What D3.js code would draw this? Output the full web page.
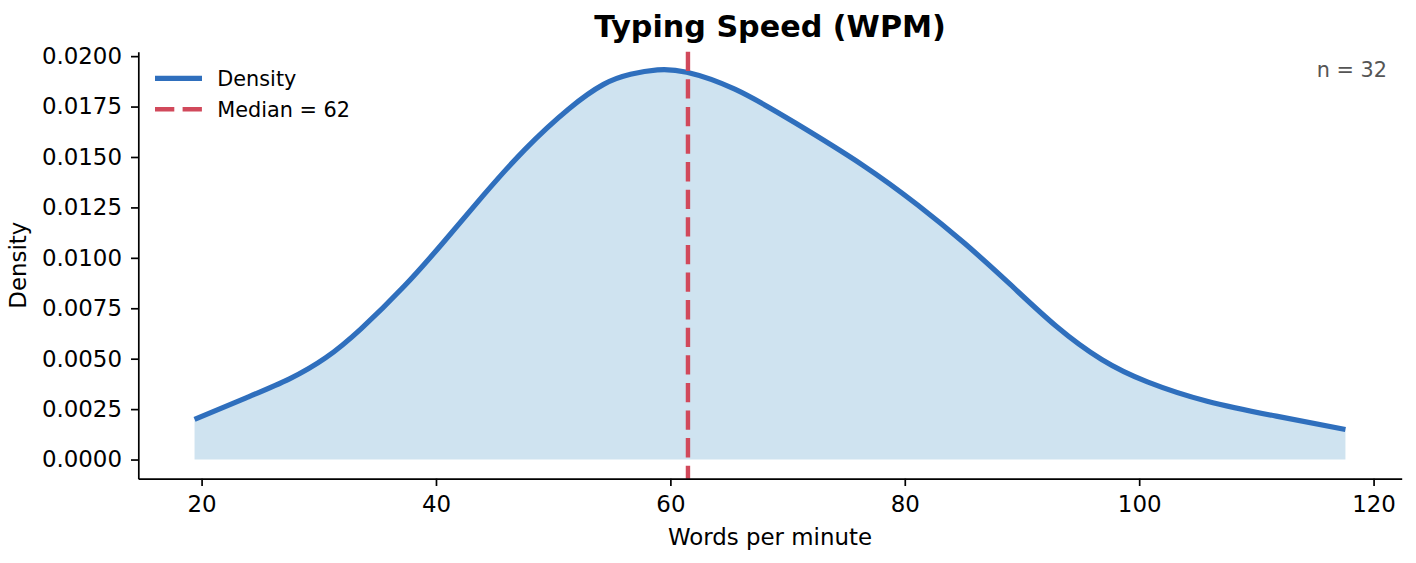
<!DOCTYPE html>
<html>
<head>
<meta charset="utf-8">
<script src="https://cdn.jsdelivr.net/npm/d3@7"></script>
<style>
  body { margin: 0; background: #fff; }
  svg { font-family: "DejaVu Sans", sans-serif; }
</style>
</head>
<body>
<div id="density_chart"></div>
<script>
/* KDE of typing speed */
const wpm = [19.4, 23.8, 27.5, 30.6, 33.6, 37.3, 40.6, 44.0, 47.6, 51.3, 54.3, 56.6, 58.9,
             61.4, 65.5, 70.6, 76.4, 81.1, 85.1, 89.0, 92.9, 96.8, 100.7, 105.8, 111.7, 117.6];
const density = [0.00199, 0.00306, 0.00400, 0.00505, 0.00648, 0.00860, 0.01075, 0.01307, 0.01538,
                 0.01737, 0.01860, 0.01910, 0.01932, 0.01920, 0.01836, 0.01671, 0.01460, 0.01262,
                 0.01072, 0.00868, 0.00662, 0.00496, 0.00385, 0.00289, 0.00215, 0.00149];
const medianWpm = 61.5;
const sampleSize = 32;
const xTicks = [20, 40, 60, 80, 100, 120];
const yTicks = [0, 0.0025, 0.005, 0.0075, 0.01, 0.0125, 0.015, 0.0175, 0.02];

const width = 1416,
      height = 563,
      margin = ({ top: 51.7, right: 14.3, bottom: 84.3, left: 138.3 });

const data = wpm.map((w, i) => ({ wpm: w, d: density[i] }));

let svg = d3.select("#density_chart")
    .append("svg")
    .attr("width", width)
    .attr("height", height)
    .attr("viewBox", [0, 0, width, height]);

let x = d3.scaleLinear()
    .domain([14.6, 122.4])
    .range([margin.left, width - margin.right]);

let y = d3.scaleLinear()
    .domain([-0.00095, 0.02022])
    .range([height - margin.bottom, margin.top]);

/* filled area under the curve, down to zero */
svg.append("path")
    .datum(data)
    .attr("fill", "#cfe3f0")
    .attr("d", d3.area()
        .x(d => x(d.wpm))
        .y0(y(0))
        .y1(d => y(d.d))
        .curve(d3.curveNatural));

svg.append("path")
    .datum(data)
    .attr("fill", "none")
    .attr("stroke", "#2f6fbd")
    .attr("stroke-width", 5.2)
    .attr("d", d3.line()
        .x(d => x(d.wpm))
        .y(d => y(d.d))
        .curve(d3.curveNatural));

/* median line spans the whole axes */
svg.append("line")
    .attr("x1", x(medianWpm))
    .attr("x2", x(medianWpm))
    .attr("y1", margin.top)
    .attr("y2", height - margin.bottom)
    .attr("stroke", "#d1495b")
    .attr("stroke-width", 4.4)
    .attr("stroke-dasharray", "19.3,8.3");

/* axes */
let xAxis = svg.append("g")
    .attr("transform", `translate(0,${height - margin.bottom})`)
    .call(d3.axisBottom(x).tickValues(xTicks).tickSizeInner(7.3).tickSizeOuter(0).tickPadding(10.2));

let yAxis = svg.append("g")
    .attr("transform", `translate(${margin.left},0)`)
    .call(d3.axisLeft(y).tickValues(yTicks).tickFormat(d3.format(".4f"))
        .tickSizeInner(7.3).tickSizeOuter(0).tickPadding(9));

[xAxis, yAxis].forEach(g => {
    g.selectAll(".domain").attr("stroke", "#000").attr("stroke-width", 1.7);
    g.selectAll(".tick line").attr("stroke", "#000").attr("stroke-width", 1.7);
    g.selectAll(".tick text")
        .attr("fill", "#000")
        .style("font-family", "DejaVu Sans")
        .style("font-size", "22.9px");
});

svg.append("text")
    .attr("x", (margin.left + width - margin.right) / 2)
    .attr("y", 545)
    .attr("text-anchor", "middle")
    .style("font-size", "22.9px")
    .text("Words per minute");

svg.append("text")
    .attr("transform", `translate(26,${(margin.top + height - margin.bottom) / 2}) rotate(-90)`)
    .attr("text-anchor", "middle")
    .style("font-size", "22.9px")
    .text("Density");

svg.append("text")
    .attr("x", (margin.left + width - margin.right) / 2)
    .attr("y", 37)
    .attr("text-anchor", "middle")
    .style("font-size", "30.2px")
    .style("font-weight", "bold")
    .text("Typing Speed (WPM)");

svg.append("text")
    .attr("x", 1387)
    .attr("y", 76.5)
    .attr("text-anchor", "end")
    .attr("fill", "#555")
    .style("font-size", "20.8px")
    .text(`n = ${sampleSize}`);

/* legend */
const legendItems = [
    { label: "Density", color: "#2f6fbd", width: 5.2, dash: null },
    { label: `Median = ${d3.format(".0f")(medianWpm)}`, color: "#d1495b", width: 4.4, dash: "19.3,8.3" }
];

let legend = svg.selectAll(".legend")
    .data(legendItems)
    .join("g")
    .attr("class", "legend")
    .attr("transform", (d, i) => `translate(155,${78.3 + i * 31})`);

legend.append("line")
    .attr("x1", 0)
    .attr("x2", 47)
    .attr("stroke", d => d.color)
    .attr("stroke-width", d => d.width)
    .attr("stroke-dasharray", d => d.dash);

legend.append("text")
    .attr("x", 62.3)
    .attr("y", 8)
    .style("font-size", "20.8px")
    .text(d => d.label);
</script>
</body>
</html>
